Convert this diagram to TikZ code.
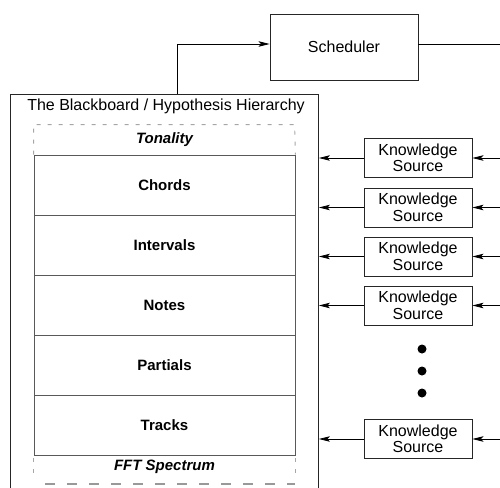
\documentclass[tikz,border=0pt]{standalone}
\usepackage{fontspec}
\setmainfont{Liberation Sans}
\usetikzlibrary{arrows.meta}
\begin{document}
\begin{tikzpicture}[x=1pt,y=-1pt,
  every node/.style={font=\fontsize{16}{16.5}\selectfont},
  box/.style={draw=black!85, line width=0.9pt, rectangle, inner sep=0pt},
  layer/.style={draw=black!65, line width=0.8pt, rectangle, inner sep=0pt,
    minimum width=261pt, minimum height=60pt, font=\fontsize{15}{15}\selectfont\bfseries},
  edge/.style={draw=black!35, line width=0.9pt, dash pattern=on 4pt off 7pt},
  ghost/.style={font=\fontsize{15}{15}\selectfont\bfseries\itshape},
  ks/.style={box, minimum width=108pt, minimum height=39pt, align=center},
  flow/.style={line width=0.8pt, -{Stealth[length=11pt,width=5.5pt,inset=2.5pt]}},
  dot/.style={fill=black, circle, inner sep=0pt, minimum size=9pt}]
\useasboundingbox (0,0) rectangle (500,487);

% scheduler and blackboard frame (open at the foot of the picture)
\node[box, minimum width=148pt, minimum height=66pt] (sched) at (344,47) {Scheduler};
\node[box, minimum width=308pt, minimum height=406pt, anchor=north west] (bb) at (10,94) {};
\node[anchor=center] (title) at (166,106) {The Blackboard / Hypothesis Hierarchy};

% hypothesis levels
\node[layer] (chords)   at (164.5,185) {Chords};
\node[layer] (intervals) at (164.5,245) {Intervals};
\node[layer] (notes)    at (164.5,305) {Notes};
\node[layer] (partials) at (164.5,365) {Partials};
\node[layer] (tracks)   at (164.5,425) {Tracks};
\node[ghost] (tonality) at (164.5,140) {Tonality};
\node[ghost] (fft)      at (164.5,467) {FFT Spectrum};

% dashed open levels above and below
\draw[edge] (chords.north west) -- ++(0,-30) -- ++(261,0) -- (chords.north east);
\draw[edge] (tracks.south west) ++(0,3) -- ++(0,20);
\draw[edge] (tracks.south east) ++(0,3) -- ++(0,20);
\draw[draw=black!40, line width=1.2pt, dash pattern=on 10pt off 12pt] (45,484) -- (295,484);

% knowledge sources
\node[ks] (ks1) at (418,158) {Knowledge\\Source};
\node[ks] (ks2) at (418,207.5) {Knowledge\\Source};
\node[ks] (ks3) at (418,256.5) {Knowledge\\Source};
\node[ks] (ks4) at (418,305.5) {Knowledge\\Source};
\node[ks] (ks5) at (418,439) {Knowledge\\Source};
\node[dot] (d1) at (422,349) {};
\node[dot] (d2) at (422,371) {};
\node[dot] (d3) at (422,393) {};

% connectors
\coordinate (tap) at (177,94);
\coordinate (out) at (500,44);
\draw[flow] (tap) |- (sched.west |- out);
\draw[line width=0.8pt] (sched.east |- out) -- (out);
\foreach \k in {1,...,5}{
  \coordinate (in\k) at (ks\k.east -| out);
  \draw[flow] (in\k) -- (ks\k.east);
  \draw[flow] (ks\k.west) -- (ks\k.west -| bb.east);
}
\end{tikzpicture}
\end{document}
